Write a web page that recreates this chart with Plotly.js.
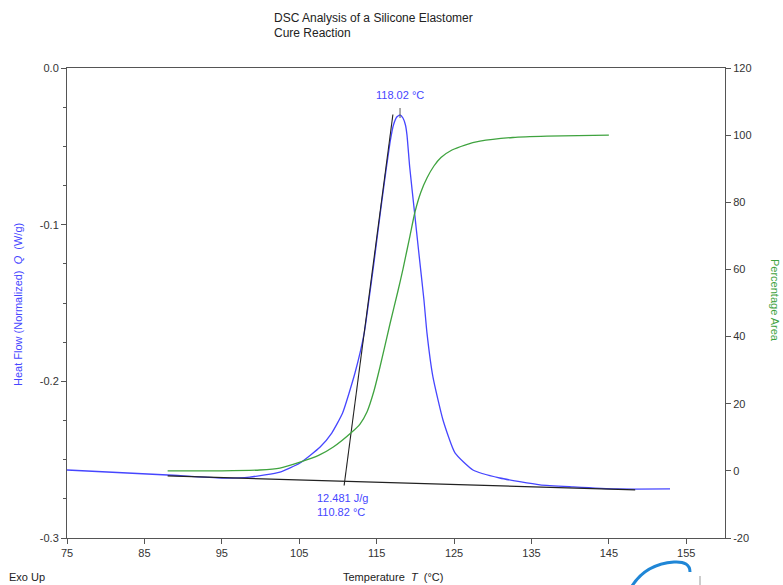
<!DOCTYPE html>
<html>
<head>
<meta charset="utf-8">
<script src="https://cdn.plot.ly/plotly-3.0.1.min.js"></script>
<style>html,body{margin:0;padding:0;background:#fff;}#chart{width:783px;height:585px;}</style>
</head>
<body>
<div id="chart"></div>
<script>
// Heat flow (normalized), W/g
const tempHeat = [75, 88, 95, 98.6, 102.5, 105.1, 107.7, 109.2, 110.6, 112.2, 113.4, 114.0, 114.58, 115.14, 115.69, 116.27, 116.78, 117.17, 117.6, 118.02, 118.40, 118.72, 118.92, 119.27, 119.86, 120.41, 121.11, 121.5, 122.27, 123.57, 125.12, 127.44, 130.9, 136.1, 140.4, 146.0, 152.9];
const heatFlow = [-0.2566, -0.2598, -0.2617, -0.2611, -0.2579, -0.2521, -0.2419, -0.2330, -0.2202, -0.1947, -0.1691, -0.1481, -0.1270, -0.1053, -0.0843, -0.0632, -0.0460, -0.0364, -0.0313, -0.0300, -0.0319, -0.0364, -0.0428, -0.0632, -0.0906, -0.1162, -0.1481, -0.1691, -0.1972, -0.2247, -0.2457, -0.2566, -0.2617, -0.2661, -0.2674, -0.2687, -0.2687];

// Percentage area (cumulative)
const tempArea = [88, 95, 99.9, 102.5, 105.1, 107.5, 109.4, 111.81, 112.85, 113.75, 114.65, 115.43, 116.72, 117.75, 118.40, 119.30, 119.95, 120.72, 121.50, 122.40, 123.31, 124.73, 126.41, 128.35, 132.6, 137.0, 145.0];
const pctArea = [0.0, 0.0, 0.25, 0.8, 2.6, 4.6, 7.1, 11.57, 13.95, 17.53, 23.78, 30.93, 43.74, 53.57, 60.12, 69.95, 77.10, 83.06, 87.23, 90.81, 93.34, 95.57, 97.06, 98.2, 99.3, 99.7, 100.0];

// Integration baseline, onset tangent, peak marker
const baseT = [88, 148.4];
const baseQ = [-0.2604, -0.2693];
const tangT = [110.8, 117.1];
const tangQ = [-0.2665, -0.0297];
const peakT = [118.02, 118.02];
const peakQ = [-0.0255, -0.0319];

// Ticks
const xTicks = [75, 85, 95, 105, 115, 125, 135, 145, 155];
const yTicks = [0, -0.1, -0.2, -0.3];
const yTickText = ["0.0", "-0.1", "-0.2", "-0.3"];
const y2Ticks = [120, 100, 80, 60, 40, 20, 0, -20];
const y2TickText = ["120", "100", "80", "60", "40", "20", "0", "-20"];

const BLUE = "#4646ff";
const GREEN = "#3fa33f";
const AXIS = "#555555";
const FONT = "Liberation Sans, Arial, sans-serif";

// plot area in pixels: left 67, right 725, top 68, bottom 538
const PX = p => (p - 67) / 658;
const PY = p => (538 - p) / 470;

const traces = [
  {x: tempHeat, y: heatFlow, type: "scatter", mode: "lines",
   line: {color: BLUE, width: 1.3, shape: "spline", smoothing: 0.5}, yaxis: "y", hoverinfo: "skip"},
  {x: tempArea, y: pctArea, type: "scatter", mode: "lines",
   line: {color: GREEN, width: 1.3, shape: "spline", smoothing: 0.6}, yaxis: "y2", hoverinfo: "skip"},
  {x: baseT, y: baseQ, type: "scatter", mode: "lines",
   line: {color: "#222222", width: 1.2}, yaxis: "y", hoverinfo: "skip"},
  {x: tangT, y: tangQ, type: "scatter", mode: "lines",
   line: {color: "#222222", width: 1.1}, yaxis: "y", hoverinfo: "skip"},
  {x: peakT, y: peakQ, type: "scatter", mode: "lines",
   line: {color: "#666666", width: 1.1}, yaxis: "y", hoverinfo: "skip"}
];

const logoPath = "M " + PX(632) + "," + PY(586) + " Q " + PX(646) + "," + PY(564) + " " + PX(674) + "," + PY(562) +
                 " Q " + PX(690) + "," + PY(561) + " " + PX(690) + "," + PY(572);

const layout = {
  width: 783, height: 585,
  margin: {l: 67, r: 58, t: 68, b: 47},
  paper_bgcolor: "#ffffff", plot_bgcolor: "#ffffff",
  showlegend: false,
  font: {family: FONT, size: 11, color: "#333333"},
  xaxis: {
    range: [75, 160], tickvals: xTicks, ticks: "outside", ticklen: 5, tickcolor: AXIS,
    showline: true, linecolor: AXIS, linewidth: 1, mirror: true, showgrid: false, zeroline: false,
    tickfont: {family: FONT, size: 11, color: "#333333"}
  },
  yaxis: {
    range: [-0.3, 0], tickvals: yTicks, ticktext: yTickText, ticks: "outside", ticklen: 5, tickcolor: AXIS,
    showline: true, linecolor: AXIS, linewidth: 1, showgrid: false, zeroline: false,
    minor: {dtick: 0.025, ticks: "outside", ticklen: 3, tickcolor: AXIS},
    tickfont: {family: FONT, size: 11, color: "#333333"}
  },
  yaxis2: {
    range: [-20, 120], overlaying: "y", side: "right", tickvals: y2Ticks, ticktext: y2TickText,
    ticks: "outside", ticklen: 5, tickcolor: AXIS,
    showline: true, linecolor: AXIS, linewidth: 1, showgrid: false, zeroline: false,
    tickfont: {family: FONT, size: 11, color: "#333333"}
  },
  shapes: [
    {type: "path", xref: "paper", yref: "paper", path: logoPath, line: {color: "#1f86d6", width: 3}},
    {type: "line", xref: "paper", yref: "paper", x0: PX(700), x1: PX(700), y0: PY(576), y1: PY(585), line: {color: "#999999", width: 1}}
  ],
  annotations: [
    {xref: "paper", yref: "paper", x: PX(272), y: PY(18), xanchor: "left", yanchor: "middle",
     text: "DSC Analysis of a Silicone Elastomer", showarrow: false, font: {family: FONT, size: 12, color: "#222222"}},
    {xref: "paper", yref: "paper", x: PX(272), y: PY(33), xanchor: "left", yanchor: "middle",
     text: "Cure Reaction", showarrow: false, font: {family: FONT, size: 12, color: "#222222"}},
    {xref: "paper", yref: "paper", x: PX(393), y: PY(577), xanchor: "center", yanchor: "middle",
     text: "Temperature  <i>T</i>  (°C)", showarrow: false, font: {family: FONT, size: 11, color: "#222222"}},
    {xref: "paper", yref: "paper", x: PX(7), y: PY(577), xanchor: "left", yanchor: "middle",
     text: "Exo Up", showarrow: false, font: {family: FONT, size: 11, color: "#222222"}},
    {xref: "paper", yref: "paper", x: PX(18), y: PY(305), xanchor: "center", yanchor: "middle", textangle: -90,
     text: "Heat Flow (Normalized)  <i>Q</i>  (W/g)", showarrow: false, font: {family: FONT, size: 11, color: BLUE}},
    {xref: "paper", yref: "paper", x: PX(775), y: PY(300), xanchor: "center", yanchor: "middle", textangle: 90,
     text: "Percentage Area", showarrow: false, font: {family: FONT, size: 11, color: GREEN}},
    {xref: "x", yref: "y", x: 118.02, y: -0.0175, xanchor: "center", yanchor: "middle",
     text: "118.02 °C", showarrow: false, font: {family: FONT, size: 11, color: BLUE}},
    {xref: "x", yref: "y", x: 107.0, y: -0.2745, xanchor: "left", yanchor: "middle",
     text: "12.481 J/g", showarrow: false, font: {family: FONT, size: 11, color: BLUE}},
    {xref: "x", yref: "y", x: 107.0, y: -0.2834, xanchor: "left", yanchor: "middle",
     text: "110.82 °C", showarrow: false, font: {family: FONT, size: 11, color: BLUE}}
  ]
};

Plotly.newPlot("chart", traces, layout, {displayModeBar: false, staticPlot: true});
</script>
</body>
</html>
